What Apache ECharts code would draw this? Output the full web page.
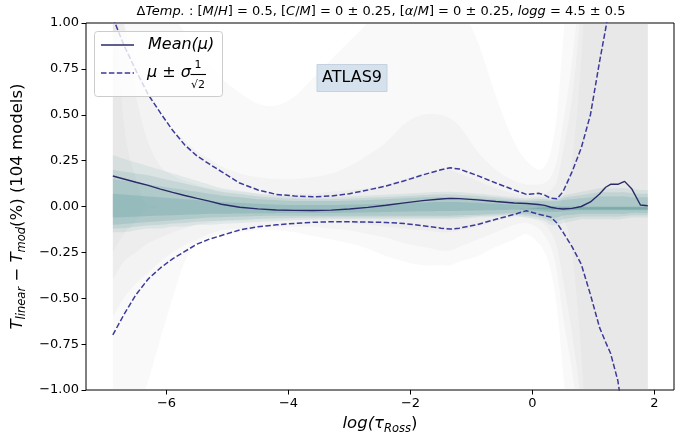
<!DOCTYPE html>
<html>
<head>
<meta charset="utf-8">
<script src="https://cdn.jsdelivr.net/npm/echarts@6/dist/echarts.min.js"></script>
<style>
  html, body { margin: 0; padding: 0; background: #ffffff; }
  #chart { width: 691px; height: 434px; }
</style>
</head>
<body>
<div id="chart"></div>
<script>
// Optical depth grid, log(tau_Ross)
const X = [-6.88, -6.7, -6.5, -6.3, -6.1, -5.9, -5.7, -5.5, -5.3, -5.1,
  -4.8, -4.5, -4.2, -3.9, -3.6, -3.3, -3.0, -2.7, -2.4, -2.1,
  -1.8, -1.5, -1.35, -1.2, -0.9, -0.6, -0.3, -0.1, 0.1, 0.2,
  0.3, 0.4, 0.5, 0.65, 0.8, 0.95, 1.1, 1.2, 1.28, 1.4,
  1.51, 1.63, 1.77, 1.89];

// Mean relative temperature difference (%)
const MEAN = [0.166, 0.15, 0.132, 0.115, 0.095, 0.077, 0.06, 0.044, 0.029, 0.012,
  -0.004, -0.013, -0.019, -0.021, -0.022, -0.02, -0.014, -0.005, 0.007, 0.02,
  0.032, 0.041, 0.044, 0.043, 0.036, 0.027, 0.019, 0.016, 0.011, 0.006,
  -0.004, -0.01, -0.014, -0.01, 0.0, 0.025, 0.068, 0.105, 0.121, 0.121,
  0.137, 0.095, 0.008, 0.004];

// mu + sigma/sqrt(2)
const UPPER = [1.03, 0.88, 0.74, 0.61, 0.51, 0.415, 0.335, 0.275, 0.232, 0.19,
  0.128, 0.09, 0.066, 0.057, 0.053, 0.057, 0.07, 0.09, 0.112, 0.14,
  0.172, 0.2, 0.211, 0.204, 0.168, 0.128, 0.09, 0.066, 0.072, 0.062,
  0.045, 0.042, 0.08, 0.19, 0.32, 0.5, 0.79, 0.97, 1.12, 1.38,
  1.62, 1.9, 2.2, 2.4];

// mu - sigma/sqrt(2)
const LOWER = [-0.70, -0.59, -0.48, -0.395, -0.335, -0.285, -0.245, -0.205, -0.178, -0.158,
  -0.128, -0.11, -0.10, -0.092, -0.086, -0.083, -0.083, -0.085, -0.087, -0.093,
  -0.105, -0.118, -0.123, -0.118, -0.098, -0.07, -0.043, -0.023, -0.042, -0.05,
  -0.058, -0.09, -0.14, -0.22, -0.315, -0.48, -0.66, -0.74, -0.80, -0.95,
  -1.2, -1.5, -1.8, -2.0];

// Spread of the individual models: broad grey envelopes
const GREY1_HI = [1.6, 1.5, 1.4, 1.3, 1.2, 1.05, 0.95, 0.85, 0.78, 0.7,
  0.62, 0.56, 0.55, 0.6, 0.7, 0.8, 0.9, 1.0, 1.1, 1.2,
  1.2, 1.2, 1.2, 1.1, 0.9, 0.6, 0.35, 0.25, 0.2, 0.22,
  0.3, 0.5, 0.9, 1.5, 2, 2, 2, 2, 2, 2,
  2, 2, 2, 2];
const GREY1_LO = [-1.6, -1.4, -1.15, -0.95, -0.72, -0.5, -0.3, -0.2, -0.17, -0.15,
  -0.14, -0.13, -0.13, -0.14, -0.16, -0.18, -0.2, -0.23, -0.27, -0.3,
  -0.32, -0.32, -0.32, -0.3, -0.27, -0.22, -0.18, -0.15, -0.2, -0.25,
  -0.35, -0.55, -0.9, -1.5, -2, -2, -2, -2, -2, -2,
  -2, -2, -2, -2];
const GREY2_HI = [1.2, 1.0, 0.8, 0.65, 0.5, 0.42, 0.36, 0.3, 0.26, 0.22,
  0.18, 0.16, 0.15, 0.15, 0.16, 0.18, 0.22, 0.28, 0.35, 0.45,
  0.5, 0.5, 0.48, 0.44, 0.3, 0.2, 0.14, 0.12, 0.12, 0.13,
  0.16, 0.25, 0.45, 0.8, 1.3, 2, 2, 2, 2, 2,
  2, 2, 2, 2];
const GREY2_LO = [-0.6, -0.5, -0.42, -0.36, -0.3, -0.25, -0.21, -0.18, -0.15, -0.13,
  -0.12, -0.11, -0.11, -0.11, -0.11, -0.12, -0.13, -0.15, -0.17, -0.2,
  -0.22, -0.24, -0.24, -0.22, -0.18, -0.14, -0.1, -0.09, -0.12, -0.16,
  -0.22, -0.35, -0.6, -0.9, -1.3, -2, -2, -2, -2, -2,
  -2, -2, -2, -2];
const GREY3_HI = [1.5, 1.0, 0.6, 0.35, 0.22, 0.17, 0.14, 0.12, 0.1, 0.09,
  0.08, 0.07, 0.07, 0.07, 0.07, 0.08, 0.09, 0.1, 0.12, 0.15,
  0.18, 0.2, 0.2, 0.18, 0.14, 0.1, 0.07, 0.06, 0.06, 0.07,
  0.09, 0.14, 0.3, 0.6, 1.1, 1.8, 2, 2, 2, 2,
  2, 2, 2, 2];
const GREY3_LO = [-0.4, -0.3, -0.25, -0.2, -0.17, -0.14, -0.12, -0.1, -0.09, -0.08,
  -0.08, -0.075, -0.075, -0.075, -0.075, -0.08, -0.09, -0.1, -0.11, -0.12,
  -0.13, -0.14, -0.14, -0.13, -0.11, -0.08, -0.06, -0.06, -0.08, -0.1,
  -0.14, -0.22, -0.4, -0.7, -1.1, -1.8, -2, -2, -2, -2,
  -2, -2, -2, -2];
const GREY4_HI = [1.2, 0.45, 0.15, 0, 0, 0, 0, 0, 0, 0,
  0, 0, 0, 0, 0, 0, 0, 0, 0, 0,
  0, 0, 0, 0, 0, 0, 0, 0, 0, 0,
  0, 0, 0.05, 0.25, 0.8, 1.6, 2, 2, 2, 2,
  2, 2, 2, 2];
const GREY4_LO = [-0.25, -0.15, -0.08, 0, 0, 0, 0, 0, 0, 0,
  0, 0, 0, 0, 0, 0, 0, 0, 0, 0,
  0, 0, 0, 0, 0, 0, 0, 0, 0, 0,
  0, 0, -0.05, -0.25, -0.8, -1.6, -2, -2, -2, -2,
  -2, -2, -2, -2];

// Spread of the individual models: narrow teal core, outermost first
const TEAL1_HI = [0.28, 0.26, 0.24, 0.22, 0.2, 0.18, 0.16, 0.14, 0.12, 0.1,
  0.085, 0.07, 0.06, 0.055, 0.05, 0.05, 0.055, 0.06, 0.065, 0.07,
  0.075, 0.08, 0.08, 0.078, 0.07, 0.06, 0.05, 0.045, 0.05, 0.05,
  0.045, 0.05, 0.06, 0.07, 0.08, 0.09, 0.1, 0.1, 0.1, 0.1,
  0.1, 0.095, 0.09, 0.09];
const TEAL1_LO = [-0.14, -0.14, -0.13, -0.12, -0.12, -0.11, -0.11, -0.1, -0.1, -0.095,
  -0.09, -0.085, -0.08, -0.075, -0.072, -0.07, -0.07, -0.07, -0.07, -0.07,
  -0.07, -0.07, -0.07, -0.068, -0.06, -0.055, -0.05, -0.06, -0.07, -0.08,
  -0.1, -0.1, -0.09, -0.08, -0.07, -0.07, -0.07, -0.07, -0.07, -0.07,
  -0.065, -0.06, -0.06, -0.06];
const TEAL2_HI = [0.2, 0.19, 0.18, 0.17, 0.155, 0.14, 0.125, 0.11, 0.095, 0.08,
  0.068, 0.056, 0.048, 0.043, 0.04, 0.04, 0.043, 0.048, 0.052, 0.057,
  0.062, 0.066, 0.066, 0.064, 0.058, 0.05, 0.04, 0.036, 0.04, 0.04,
  0.037, 0.04, 0.048, 0.055, 0.062, 0.07, 0.078, 0.078, 0.078, 0.078,
  0.078, 0.072, 0.07, 0.07];
const TEAL2_LO = [-0.12, -0.118, -0.11, -0.103, -0.1, -0.093, -0.09, -0.083, -0.08, -0.077,
  -0.073, -0.068, -0.065, -0.062, -0.061, -0.06, -0.06, -0.06, -0.06, -0.06,
  -0.06, -0.06, -0.06, -0.058, -0.052, -0.048, -0.043, -0.05, -0.058, -0.065,
  -0.08, -0.08, -0.07, -0.062, -0.055, -0.055, -0.055, -0.055, -0.055, -0.055,
  -0.052, -0.048, -0.048, -0.048];
const TEAL3_HI = [0.15, 0.14, 0.13, 0.12, 0.11, 0.1, 0.09, 0.08, 0.07, 0.06,
  0.05, 0.04, 0.035, 0.03, 0.03, 0.03, 0.032, 0.035, 0.04, 0.045,
  0.05, 0.052, 0.052, 0.05, 0.045, 0.038, 0.03, 0.028, 0.03, 0.03,
  0.028, 0.03, 0.035, 0.04, 0.045, 0.05, 0.055, 0.055, 0.055, 0.055,
  0.055, 0.05, 0.05, 0.05];
const TEAL3_LO = [-0.1, -0.095, -0.09, -0.085, -0.08, -0.075, -0.07, -0.065, -0.06, -0.058,
  -0.055, -0.052, -0.05, -0.05, -0.05, -0.05, -0.05, -0.05, -0.05, -0.05,
  -0.05, -0.05, -0.05, -0.048, -0.045, -0.04, -0.035, -0.04, -0.045, -0.05,
  -0.06, -0.06, -0.05, -0.045, -0.04, -0.04, -0.04, -0.04, -0.04, -0.04,
  -0.04, -0.035, -0.035, -0.035];
const TEAL4_HI = [0.07, 0.065, 0.06, 0.055, 0.05, 0.045, 0.04, 0.035, 0.03, 0.025,
  0.02, 0.015, 0.01, 0.008, 0.008, 0.008, 0.01, 0.012, 0.015, 0.02,
  0.022, 0.025, 0.025, 0.024, 0.02, 0.015, 0.01, 0.01, 0.008, 0.005,
  0.003, 0.002, 0, 0, 0, 0, 0, 0, 0, 0,
  0, 0, 0, 0];
const TEAL4_LO = [-0.06, -0.058, -0.055, -0.052, -0.05, -0.048, -0.045, -0.043, -0.04, -0.04,
  -0.038, -0.037, -0.036, -0.035, -0.035, -0.035, -0.034, -0.032, -0.03, -0.028,
  -0.026, -0.025, -0.025, -0.024, -0.022, -0.02, -0.018, -0.02, -0.024, -0.028,
  -0.03, -0.03, -0.026, -0.022, -0.02, -0.02, -0.02, -0.02, -0.02, -0.02,
  -0.02, -0.02, -0.02, -0.02];
// converged deep-layer models
const TEAL5_HI = [-0.01, -0.01, -0.01, -0.01, -0.01, -0.01, -0.01, -0.01, -0.01, -0.01,
  -0.01, -0.01, -0.01, -0.01, -0.01, -0.01, -0.01, -0.01, -0.01, -0.01,
  -0.01, -0.01, -0.01, -0.01, -0.01, -0.01, -0.01, -0.01, -0.006, -0.004,
  -0.004, -0.004, -0.004, -0.004, -0.004, -0.004, -0.004, -0.004, -0.004, -0.004,
  -0.004, -0.004, -0.004, -0.004];
const TEAL5_LO = [-0.01, -0.01, -0.01, -0.01, -0.01, -0.01, -0.01, -0.01, -0.01, -0.01,
  -0.01, -0.01, -0.01, -0.01, -0.01, -0.01, -0.01, -0.01, -0.01, -0.01,
  -0.01, -0.01, -0.01, -0.01, -0.01, -0.01, -0.01, -0.01, -0.014, -0.016,
  -0.017, -0.017, -0.017, -0.017, -0.017, -0.017, -0.017, -0.017, -0.017, -0.017,
  -0.017, -0.017, -0.017, -0.017];

const X_TICKS = [-6, -4, -2, 0, 2];
const Y_TICK_STEP = 0.25;

const FONT = 'DejaVu Sans';
const MEAN_COLOR = '#2a2a68';
const DASH_COLOR = '#3b3a98';
const GREY = 'rgba(153,153,153,0.06)';

const minus = s => s.replace('-', '\u2212');

// Smooth edge through pixel points (cubic Hermite, x-monotone), densified for drawing
function smoothEdge(pts) {
  const n = pts.length;
  const m = pts.map((p, i) => {
    const a = pts[Math.max(i - 1, 0)], b = pts[Math.min(i + 1, n - 1)];
    return (b[1] - a[1]) / (b[0] - a[0]);
  });
  const out = [pts[0]];
  for (let i = 0; i < n - 1; i++) {
    const [x0, y0] = pts[i], [x1, y1] = pts[i + 1];
    const h = x1 - x0;
    for (let k = 1; k <= 8; k++) {
      const t = k / 8, t2 = t * t, t3 = t2 * t;
      const y = (2 * t3 - 3 * t2 + 1) * y0 + (t3 - 2 * t2 + t) * h * m[i] +
                (-2 * t3 + 3 * t2) * y1 + (t3 - t2) * h * m[i + 1];
      out.push([x0 + t * h, y]);
    }
  }
  return out;
}

// A filled band between lo and hi, drawn as one polygon through the axes' scales
function band(lo, hi, fill) {
  return {
    type: 'custom', silent: true, z: 1, clip: true, animation: false,
    data: X.map((x, i) => [x, lo[i], hi[i]]),
    encode: { x: 0, y: [1, 2] },
    renderItem: (params, api) => {
      if (params.dataIndex !== 0) return null;
      const top = smoothEdge(X.map((x, i) => api.coord([x, hi[i]])));
      const bottom = smoothEdge(X.map((x, i) => api.coord([x, lo[i]]))).reverse();
      return {
        type: 'polygon',
        shape: { points: top.concat(bottom) },
        style: { fill: fill, stroke: null }
      };
    }
  };
}

function curve(name, ys, color, width, dash, z) {
  return {
    name: name, type: 'line', symbol: 'none', z: z, animation: false, silent: true,
    data: X.map((x, i) => [x, ys[i]]),
    lineStyle: { color: color, width: width, type: dash ? [5.5, 2.4] : 'solid' }
  };
}

const series = [
  band(GREY1_LO, GREY1_HI, GREY),
  band(GREY2_LO, GREY2_HI, GREY),
  band(GREY3_LO, GREY3_HI, GREY),
  band(GREY4_LO, GREY4_HI, GREY),
  band(TEAL1_LO, TEAL1_HI, 'rgba(95,158,160,0.12)'),
  band(TEAL2_LO, TEAL2_HI, 'rgba(95,158,160,0.17)'),
  band(TEAL3_LO, TEAL3_HI, 'rgba(95,158,160,0.22)'),
  band(TEAL4_LO, TEAL4_HI, 'rgba(95,158,160,0.28)'),
  band(TEAL5_LO, TEAL5_HI, 'rgba(80,140,140,0.35)'),
  curve('upper', UPPER, DASH_COLOR, 1.5, true, 3),
  curve('lower', LOWER, DASH_COLOR, 1.5, true, 3),
  curve('mean', MEAN, MEAN_COLOR, 1.4, false, 4)
];

const subStyle = (size) => ({
  fontFamily: FONT, fontStyle: 'italic', fontSize: size, lineHeight: 12,
  verticalAlign: 'bottom', color: '#000'
});

const chart = echarts.init(document.getElementById('chart'), null, { renderer: 'canvas' });
chart.setOption({
  animation: false,
  backgroundColor: '#ffffff',
  grid: {
    left: 86, right: 17, top: 23, bottom: 44,
    show: true, borderColor: '#000000', borderWidth: 1,
    backgroundColor: 'transparent', outerBoundsMode: 'none'
  },
  xAxis: {
    type: 'value', min: -7.32, max: 2.32,
    axisLine: { show: false, onZero: false },
    splitLine: { show: false },
    axisTick: { customValues: X_TICKS, length: 4.5, lineStyle: { color: '#000', width: 1 } },
    axisLabel: {
      customValues: X_TICKS, margin: 7, fontFamily: FONT, fontSize: 13, color: '#000',
      formatter: v => minus(String(v))
    },
    name: '{i|log(\u03c4}{s|Ross}{n|)}',
    nameLocation: 'middle', nameGap: 23,
    nameTextStyle: {
      rich: {
        i: { fontFamily: FONT, fontStyle: 'italic', fontSize: 16.5, lineHeight: 22, color: '#000' },
        n: { fontFamily: FONT, fontSize: 16.5, lineHeight: 22, color: '#000' },
        s: subStyle(11.5)
      }
    }
  },
  yAxis: {
    type: 'value', min: -1, max: 1, interval: Y_TICK_STEP,
    axisLine: { show: false, onZero: false },
    splitLine: { show: false },
    axisTick: { length: 4.5, lineStyle: { color: '#000', width: 1 } },
    axisLabel: {
      margin: 7, fontFamily: FONT, fontSize: 13, color: '#000',
      showMinLabel: true, showMaxLabel: true,
      formatter: v => minus(v.toFixed(2))
    },
    name: '{i|T}{s|linear}{n| \u2212 }{i|T}{s|mod}{n|(%) (104 models)}',
    nameLocation: 'middle', nameGap: 46, nameRotate: 90,
    nameTextStyle: {
      rich: {
        i: { fontFamily: FONT, fontStyle: 'italic', fontSize: 16.5, lineHeight: 22, color: '#000' },
        n: { fontFamily: FONT, fontSize: 16.5, lineHeight: 22, color: '#000' },
        s: subStyle(11.5)
      }
    }
  },
  series: series,
  graphic: [
    {
      type: 'text', x: 381, y: 12, z: 50,
      style: {
        text: '{n|\u0394}{i|Temp.}{n| : [}{i|M}{n|/}{i|H}{n|] = 0.5, [}{i|C}{n|/}{i|M}{n|] = 0 \u00b1 0.25, [}{i|\u03b1}{n|/}{i|M}{n|] = 0 \u00b1 0.25, }{i|logg}{n| = 4.5 \u00b1 0.5}',
        align: 'center', verticalAlign: 'middle',
        rich: {
          n: { fontFamily: FONT, fontSize: 13, fill: '#000' },
          i: { fontFamily: FONT, fontSize: 13, fontStyle: 'italic', fill: '#000' }
        }
      }
    },
    // legend box
    {
      type: 'rect', z: 50,
      shape: { x: 94.5, y: 31.5, width: 128, height: 65, r: 3 },
      style: { fill: 'rgba(255,255,255,0.8)', stroke: '#cccccc', lineWidth: 1 }
    },
    {
      type: 'line', z: 51,
      shape: { x1: 101, y1: 45, x2: 134, y2: 45 },
      style: { stroke: MEAN_COLOR, lineWidth: 1.4 }
    },
    {
      type: 'text', x: 148, y: 45, z: 51,
      style: { text: 'Mean(\u03bc)', font: 'italic 16px "DejaVu Sans"', fill: '#000', verticalAlign: 'middle' }
    },
    {
      type: 'line', z: 51,
      shape: { x1: 101, y1: 73, x2: 134, y2: 73 },
      style: { stroke: DASH_COLOR, lineWidth: 1.5, lineDash: [5.5, 2.4] }
    },
    {
      type: 'text', x: 147, y: 73, z: 51,
      style: {
        text: '{i|\u03bc}{n| \u00b1 }{i|\u03c3}', verticalAlign: 'middle',
        rich: {
          i: { fontFamily: FONT, fontSize: 16, fontStyle: 'italic', fill: '#000' },
          n: { fontFamily: FONT, fontSize: 16, fill: '#000' }
        }
      }
    },
    {
      type: 'text', x: 198, y: 65, z: 51,
      style: { text: '1', font: '11px "DejaVu Sans"', fill: '#000', align: 'center', verticalAlign: 'middle' }
    },
    {
      type: 'line', z: 51,
      shape: { x1: 190.5, y1: 74.5, x2: 206, y2: 74.5 },
      style: { stroke: '#000', lineWidth: 1.1 }
    },
    {
      type: 'text', x: 198, y: 85, z: 51,
      style: { text: '\u221a2', font: '11px "DejaVu Sans"', fill: '#000', align: 'center', verticalAlign: 'middle' }
    },
    // model grid annotation
    {
      type: 'rect', z: 50,
      shape: { x: 317, y: 64.5, width: 70, height: 27 },
      style: { fill: '#d6e1ee', stroke: '#c5d1de', lineWidth: 1 }
    },
    {
      type: 'text', x: 352, y: 78, z: 51,
      style: { text: 'ATLAS9', font: '16px "DejaVu Sans"', fill: '#000', align: 'center', verticalAlign: 'middle' }
    }
  ]
});
</script>
</body>
</html>
